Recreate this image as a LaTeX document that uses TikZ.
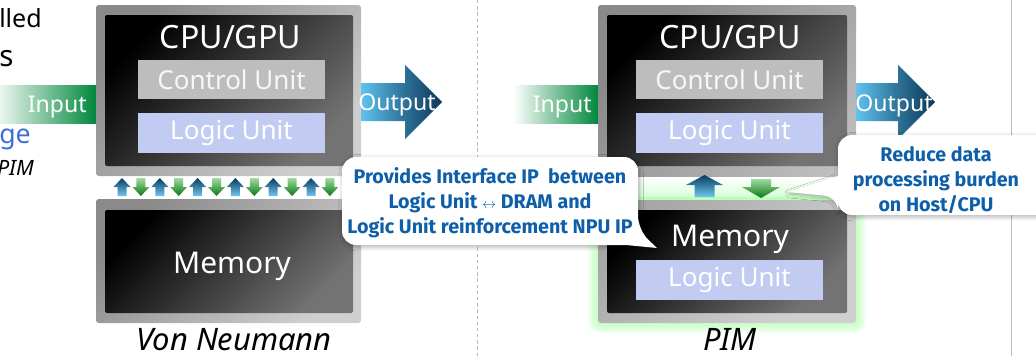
\documentclass[tikz,border=0pt]{standalone}
\usepackage{fontspec}
\setmainfont{Noto Sans}
\newfontfamily\callfont{Fira Sans}
\usepackage{xcolor}
\usepackage{tikz}
\usetikzlibrary{shadows.blur,positioning}
\definecolor{inputgreen}{RGB}{0,135,60}
\definecolor{outlight}{RGB}{95,195,238}
\definecolor{outdark}{RGB}{10,55,88}
\definecolor{ctrlgray}{RGB}{189,189,189}
\definecolor{logicblue}{RGB}{194,203,242}
\definecolor{callblue}{RGB}{12,95,168}
\definecolor{fragblue}{RGB}{62,110,220}
\definecolor{upnavy}{RGB}{10,60,95}
\definecolor{uplight}{RGB}{110,198,240}
\definecolor{downlight}{RGB}{160,220,160}
\definecolor{downdark}{RGB}{10,120,20}
\newcommand{\upblock}[6]{\shade[top color=upnavy,bottom color=uplight] (#1,#2) -- (#1+#3,#2+#5) -- (#1+#4,#2+#5) -- (#1+#4,#2+#6) -- (#1-#4,#2+#6) -- (#1-#4,#2+#5) -- (#1-#3,#2+#5) -- cycle;}
\newcommand{\downblock}[6]{\shade[top color=downlight,bottom color=downdark] (#1-#4,#2) -- (#1+#4,#2) -- (#1+#4,#2+#6-#5) -- (#1+#3,#2+#6-#5) -- (#1,#2+#6) -- (#1-#3,#2+#6-#5) -- (#1-#4,#2+#6-#5) -- cycle;}
\tikzset{
  outerbox/.style={rounded corners=2pt,top color=gray!92,bottom color=gray!38,shading angle=45},
  innerbox/.style={rounded corners=1.5pt,top color=black,bottom color=black!55,shading angle=45},
  ctrlunit/.style={fill=ctrlgray,text=white!94!gray,minimum width=4.675cm,minimum height=0.98cm,inner sep=0pt,font=\fontsize{18.5}{22}\selectfont},
  logicunit/.style={fill=logicblue,text=white,minimum width=4.675cm,minimum height=1cm,inner sep=0pt,font=\fontsize{18.5}{22}\selectfont},
  boxtitle/.style={text=white,inner sep=0pt,anchor=base,font=\fontsize{22.8}{26}\selectfont},
  memtitle/.style={text=white,inner sep=0pt,anchor=base,font=\fontsize{21.3}{25}\selectfont},
  arrowtext/.style={text=white,inner sep=0pt,font=\fontsize{16.4}{19}\selectfont},
  caption/.style={inner sep=0pt,anchor=base,font=\itshape\fontsize{22}{26}\selectfont},
  callout/.style={fill=white,blur shadow={shadow xshift=0.8pt,shadow yshift=-1.2pt,shadow blur radius=3pt,shadow opacity=35}},
  calltext/.style={text=callblue,align=center,inner sep=0pt,font=\callfont\bfseries\fontsize{14}{17.8}\selectfont},
  fragment/.style={inner sep=0pt,anchor=base west,font=\fontsize{17.8}{20}\selectfont}
}
\begin{document}
\begin{tikzpicture}[x=0.025cm,y=-0.025cm]
  \useasboundingbox (0,0) rectangle (1036,356);
  \clip (0,0) rectangle (1036,356);

  % separators
  \draw[gray!55,line width=0.7pt,dash pattern=on 2.4pt off 2pt] (477,0) -- (477,356);
  \draw[gray!50,line width=0.7pt] (1011,0) -- (1011,356);

  % input / output arrows
  \shade[left color=white,right color=inputgreen] (-8,85) rectangle (96,123);
  \shade[left color=white,right color=inputgreen] (513,85) rectangle (598,123);
  \shade[left color=outlight,right color=outdark,middle color=outlight!45!outdark] (361,83) -- (405,83) -- (405,65) -- (442,102) -- (405,139) -- (405,121) -- (361,121) -- cycle;
  \shade[left color=outlight,right color=outdark,middle color=outlight!45!outdark] (856,83) -- (898,83) -- (898,65) -- (935,102) -- (898,139) -- (898,121) -- (856,121) -- cycle;

  % Von Neumann
  \shade[outerbox] (96,5) rectangle (361,176);
  \shade[innerbox] (105,15) rectangle (353,166);
  \shade[outerbox] (96,199) rectangle (361,323);
  \shade[innerbox] (105,210) rectangle (353,313);

  % PIM, glow round the memory part
  \foreach \g in {1,...,8}
    \fill[green!40,opacity=0.09,rounded corners=\g pt] ({598-\g*1.3},{198-\g*0.5}) rectangle ({856+\g*1.3},{323+\g*1.3});
  \shade[outerbox] (598,5) rectangle (856,323);
  \shade[innerbox] (607,15) rectangle (847,166);
  \shade[innerbox] (607,210) rectangle (847,313);
  \shade[top color=white,bottom color=green!16] (598,177) rectangle (856,197);
  \fill[green!28] (598,197) rectangle (856,199.5);

  % units
  \node[ctrlunit] (ctlL) at (231.5,79.5) {Control Unit};
  \node[logicunit] (lgcL) at (231.5,133) {Logic Unit};
  \node[ctrlunit] (ctlR) at (729.5,79.5) {Control Unit};
  \node[logicunit] (lgcR) at (729.5,133) {Logic Unit};
  \node[logicunit] (lgcM) at (729.5,280) {Logic Unit};

  % titles
  \node[boxtitle] (cpuL) at (230.5,48) {CPU/GPU};
  \node[boxtitle] (cpuR) at (730,48) {CPU/GPU};
  \node[memtitle] (memL) at (232,273) {Memory};
  \node[memtitle] (memR) at (730,246) {Memory};
  \node[arrowtext,anchor=base east] (inL) at (87,112) {Input};
  \node[arrowtext,anchor=base east] (inR) at (592,112) {Input};
  \node[arrowtext,anchor=base west] (outL) at (358,110) {Output};
  \node[arrowtext,anchor=base west] (outR) at (855,111) {Output};
  \node[caption] (vonN) at (234,350) {Von Neumann};
  \node[caption] (pimN) at (730,350) {PIM};

  % data transfer
  \foreach \i in {0,...,5}{
    \pgfmathsetmacro\ux{122+37.8*\i}
    \pgfmathsetmacro\dx{\ux+18.9}
    \upblock{\ux}{178}{8.5}{4.5}{9}{18}
    \downblock{\dx}{178}{8.5}{4.5}{9}{18}
  }
  \upblock{704.5}{175}{18.5}{10}{10}{22}
  \downblock{761}{179}{19}{10}{11}{19}

  % callouts
  \path[callout,rounded corners=10pt] (490,157) -- (638,157) -- (638,230) [sharp corners] -- (657,248) -- (626,245) [rounded corners=10pt] -- (342,245) -- (342,157) -- cycle;
  \node[calltext] (ipnote) at (490,203) {Provides Interface IP~ between\\Logic Unit $\scriptstyle\leftrightarrow$ DRAM and\\Logic Unit reinforcement NPU IP};
  \path[callout,rounded corners=10pt] (940,135) -- (1060,135) -- (1060,215) -- (838,215) -- (838,197) [sharp corners] -- (788,192) -- (838,176) [rounded corners=10pt] -- (838,135) -- cycle;
  \node[calltext] (hostnote) at (936,180) {Reduce data\\processing burden\\on Host/CPU};

  % cut words at the left edge
  \node[fragment] (frag1) at (-1,27) {lled};
  \node[fragment,font=\fontsize{21}{24}\selectfont] (frag2) at (-1,66) {s};
  \node[fragment,text=fragblue,font=\fontsize{19}{22}\selectfont] (frag3) at (-1,143) {ge};
  \node[fragment,font=\itshape\fontsize{15}{18}\selectfont] (frag4) at (-3,175) {PIM};
\end{tikzpicture}
\end{document}
